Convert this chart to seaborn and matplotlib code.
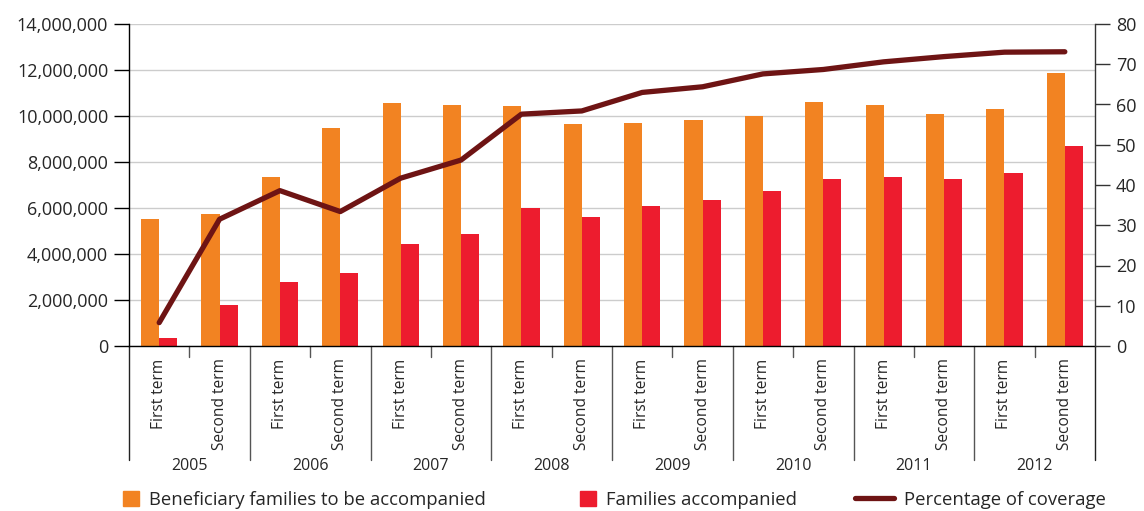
import numpy as np
import pandas as pd
import matplotlib
matplotlib.use('Agg')
import matplotlib.pyplot as plt
import matplotlib.patches as mpatches
import matplotlib.lines as mlines
import matplotlib.transforms as mtrans
import seaborn as sns

years = ['2005', '2006', '2007', '2008', '2009', '2010', '2011', '2012']
terms = ['First term', 'Second term']
to_accompany = [5.52e6, 5.74e6, 7.35e6, 9.48e6, 10.55e6, 10.48e6, 10.43e6, 9.65e6,
                9.70e6, 9.83e6, 10.0e6, 10.61e6, 10.48e6, 10.09e6, 10.30e6, 11.87e6]
accompanied = [0.33e6, 1.78e6, 2.80e6, 3.16e6, 4.42e6, 4.86e6, 6.01e6, 5.61e6,
               6.10e6, 6.33e6, 6.75e6, 7.25e6, 7.33e6, 7.25e6, 7.51e6, 8.68e6]
coverage = [5.8, 31.5, 38.6, 33.4, 41.7, 46.2, 57.6, 58.4,
            63.0, 64.4, 67.6, 68.7, 70.6, 71.9, 73.0, 73.1]

s1 = 'Beneficiary families to be accompanied'
s2 = 'Families accompanied'
s3 = 'Percentage of coverage'

orange = '#F28322'
red = '#ED1C2E'
maroon = '#6E1414'

slots = [f'{y} {t}' for y in years for t in terms]
df = pd.DataFrame({
    'slot': slots * 2,
    'series': [s1] * 16 + [s2] * 16,
    'value': to_accompany + accompanied,
})

sns.set_style('white')
plt.rcParams['font.family'] = ['Open Sans', 'DejaVu Sans']

fig = plt.figure(figsize=(11.44, 5.11), dpi=100)
ax = fig.add_axes([129 / 1144, 1 - 346 / 511, (1095 - 129) / 1144, (346 - 24) / 511])

sns.barplot(data=df, x='slot', y='value', hue='series', order=slots,
            hue_order=[s1, s2], palette=[orange, red], width=0.6,
            saturation=1, legend=False, linewidth=0, edgecolor='none', ax=ax)
ax.set_axisbelow(True)
ax.grid(axis='y', color='#CCCCCC', lw=1)
ax.set_ylim(0, 14e6)
ax.set_yticks(np.arange(0, 14e6 + 1, 2e6))
ax.set_yticklabels([f'{int(v):,}' for v in np.arange(0, 14e6 + 1, 2e6)])
ax.set_xlim(-0.5, 15.5)
ax.set_xlabel('')
ax.set_ylabel('')
ax.set_xticks(range(16))
ax.set_xticklabels([t for y in years for t in terms], rotation=90, va='top', ha='center')
ax.tick_params(axis='x', length=0, pad=9, labelsize=11.2)
ax.tick_params(axis='y', length=11, width=1, pad=4, labelsize=13, color='black',
               direction='out', left=True)
for s in ['top', 'right']:
    ax.spines[s].set_visible(False)
for s in ['left', 'bottom']:
    ax.spines[s].set_color('black')
    ax.spines[s].set_linewidth(1)

ax2 = ax.twinx()
sns.lineplot(x=np.arange(16), y=coverage, ax=ax2, color=maroon, lw=3.8,
             solid_capstyle='round', solid_joinstyle='round')
ax2.set_ylim(0, 80)
ax2.set_yticks(range(0, 81, 10))
ax2.tick_params(axis='y', length=11, width=1, pad=4, labelsize=13, right=True,
                color='#333333', direction='out')
ax2.grid(False)
for s in ['top', 'left', 'bottom']:
    ax2.spines[s].set_visible(False)
ax2.spines['right'].set_color('#333333')
ax2.spines['right'].set_linewidth(1)

# category separators below the axis
trans = mtrans.blended_transform_factory(ax.transData, ax.transAxes)
for i in range(17):
    x = i - 0.5
    if i % 2 == 0:
        y0 = -114 / 322
        col = '#222222' if i in (0, 16) else '#555555'
    else:
        y0 = -11 / 322
        col = '#555555'
    ax.plot([x, x], [0, y0], transform=trans, color=col, lw=1, clip_on=False)

for i, y in enumerate(years):
    ax.text(2 * i + 0.5, -(466 - 346) / 322, y, transform=trans,
            ha='center', va='center', fontsize=11.5)

# legend
fy = 1 - 500 / 511
h1 = mpatches.Patch(color=orange, label=s1)
h2 = mpatches.Patch(color=red, label=s2)
h3 = mlines.Line2D([], [], color=maroon, lw=3.8, solid_capstyle='round', label=s3)
for h, x0, hl in [(h1, 123, 0.85), (h2, 580, 0.85), (h3, 855, 2.1)]:
    fig.legend(handles=[h], loc='center left', bbox_to_anchor=(x0 / 1144, fy),
               frameon=False, fontsize=13.3, handlelength=hl, handleheight=0.85,
               handletextpad=0.55, borderpad=0, borderaxespad=0)

fig.savefig('out.png', dpi=100)
